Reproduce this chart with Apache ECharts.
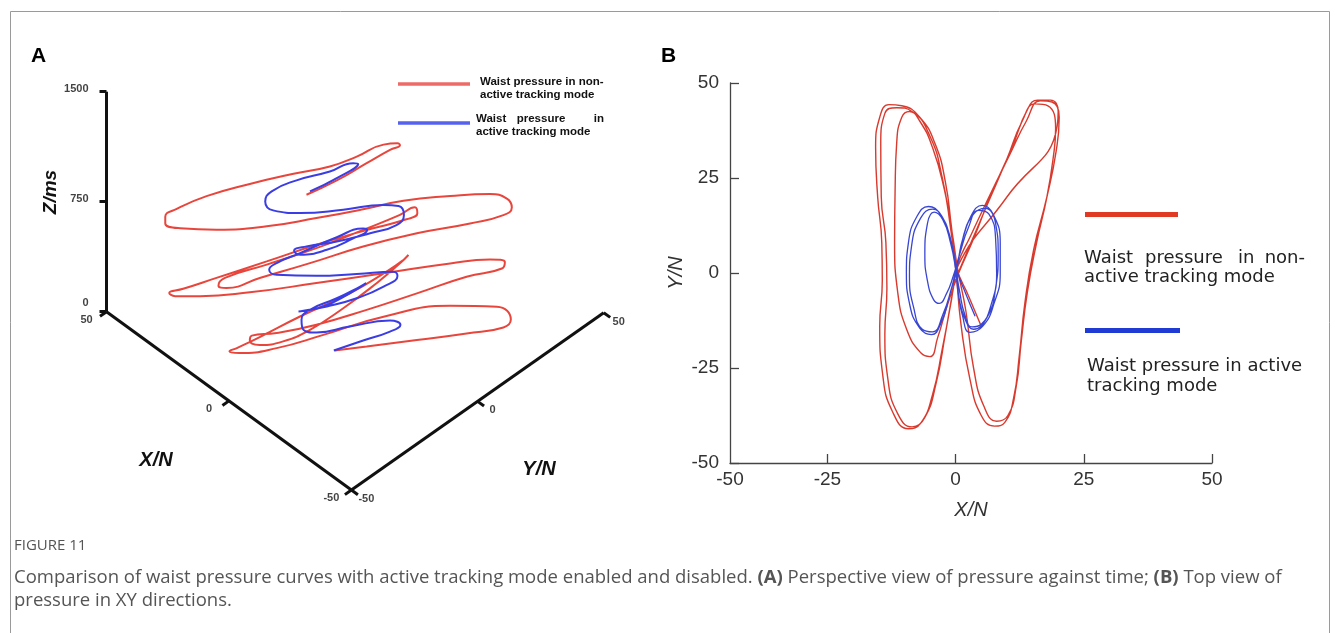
<!DOCTYPE html>
<html>
<head>
<meta charset="utf-8">
<title>Figure 11</title>
<script src="https://cdn.jsdelivr.net/npm/echarts@6/dist/echarts.min.js"></script>
<style>
  html, body { margin: 0; padding: 0; background: #fff; }
  #main { width: 1335px; height: 633px; }
</style>
</head>
<body>
<div id="main"></div>
<script>
// ---------- panel A: perspective view, points are [X (N), Y (N), Z (ms)] ----------
var aXTicks = [-50, 0, 50];
var aYTicks = [-50, 0, 50];
var aZTicks = [0, 750, 1500];

var aRed = [
  [-2.4,-21.6,1091],[-8.5,-15.5,1189],[-14.5,-9.5,1307],[-19.2,-4.8,1398],[-21.2,-2.8,1430],
  [-20.7,-3.3,1443],[-17.9,-6.1,1434],[-12.5,-11.5,1352],[-7.1,-16.9,1284],[0.2,-24.2,1234],
  [9.0,-33.0,1164],[17.7,-41.7,1080],[23.7,-47.7,993],[26.0,-50.0,939],[26.0,-50.0,893],
  [23.0,-47.0,861],[15.7,-39.7,852],[5.6,-29.6,875],[-4.4,-19.6,932],[-13.8,-10.2,993],
  [-21.9,-2.1,1052],[-31.3,7.3,1084],[-39.3,15.3,1098],[-42.7,18.7,1068],[-43.7,19.7,1007],
  [-42.0,18.0,955],[-35.3,11.3,898],[-24.6,0.6,830],[-13.8,-10.2,739],[-3.1,-20.9,625],
  [7.0,-31.0,523],[13.7,-37.7,455],[15.3,-39.3,470],[14.0,-38.0,523],[5.6,-29.6,614],
  [-4.4,-19.6,727],[-13.8,-10.2,852],[-21.2,-2.8,955],[-24.2,0.2,1007],[-24.7,0.7,966],
  [-22.5,-1.5,925],[-14.5,-9.5,852],[-4.4,-19.6,750],[5.6,-29.6,636],[15.7,-39.7,523],
  [22.4,-46.4,448],[25.2,-49.2,420],[24.0,-48.0,398],[19.0,-43.0,398],[9.0,-33.0,425],
  [-4.4,-19.6,489],[-17.9,-6.1,557],[-31.3,7.3,625],[-39.3,15.3,652],[-42.3,18.3,636],
  [-41.7,17.7,591],[-34.6,10.6,534],[-24.6,0.6,420],[-14.5,-9.5,307],[-4.4,-19.6,205],
  [3.6,-27.6,148],[8.6,-32.6,130],[9.0,-33.0,98],[7.0,-31.0,66],[2.3,-26.3,91],
  [-3.1,-20.9,170],[-9.8,-14.2,318],[-16.5,-7.5,489],[-21.2,-2.8,625],[-22.9,-1.1,682],
  [-21.9,-2.1,648],[-18.5,-5.5,568],[-11.1,-12.9,420],[-1.1,-22.9,261],[7.0,-31.0,120],
  [11.6,-35.6,45],[13.1,-37.1,23],[11.1,-35.1,11],[3.6,-27.6,45],[-5.8,-18.2,136],
  [-17.9,-6.1,261],[-31.3,7.3,336],[-40.7,16.7,330],[-43.5,19.5,243],[-42.0,18.0,189],
  [-34.6,10.6,148],[-24.6,0.6,102],[-14.5,-9.5,57],[-8.1,-15.9,30]
];

var aBlue = [
  [-3.1,-20.9,1114],[-8.5,-15.5,1205],[-12.8,-11.2,1302],[-11.8,-12.2,1307],[-7.1,-16.9,1250],
  [-0.4,-23.6,1189],[4.6,-28.6,1114],[5.9,-29.9,1045],[4.3,-28.3,984],[-1.1,-22.9,966],
  [-9.8,-14.2,989],[-17.9,-6.1,1023],[-20.9,-3.1,1016],[-22.0,-2.0,955],[-20.5,-3.5,886],
  [-15.2,-8.8,830],[-8.5,-15.5,773],[-2.4,-21.6,739],[0.1,-24.1,711],[-1.1,-22.9,682],
  [-6.5,-17.5,716],[-11.8,-12.2,795],[-14.6,-9.4,852],[-13.8,-10.2,861],[-8.5,-15.5,802],
  [-1.1,-22.9,693],[3.6,-27.6,625],[5.1,-29.1,580],[3.6,-27.6,545],[-4.4,-19.6,539],
  [-12.5,-11.5,552],[-19.9,-4.1,568],[-20.7,-3.3,539],[-17.9,-6.1,466],[-12.5,-11.5,386],
  [-6.5,-17.5,330],[-1.8,-22.2,300],[-0.8,-23.2,295],[-5.8,-18.2,330],[-11.1,-12.9,420],
  [-14.4,-9.6,489],[-13.2,-10.8,466],[-8.5,-15.5,386],[-3.1,-20.9,307],[-1.4,-22.6,239],
  [-1.8,-22.2,170],[-4.4,-19.6,152],[-11.1,-12.9,193],[-19.2,-4.8,234],[-21.3,-2.7,205],
  [-19.2,-4.8,159],[-13.8,-10.2,98],[-7.9,-16.1,30]
];

// ---------- panel B: top view, points are [X (N), Y (N)] ----------
var bXTicks = [-25, 0, 25, 50];
var bXStart = -44;          // where the Y axis crosses, labelled -50 in the original figure
var bYTicks = [-50, -25, 0, 25, 50];

var bRed = [
  [5,-14],[2.5,-6],[0.2,1.5],
  [-0.8,12],[-2,24],[-4,34],[-7,41],[-10.5,44],[-13,44.3],
  [-14.8,41],[-15.6,33],[-15.2,20],[-14.4,8],[-14.3,-2],[-14.8,-14],[-14.2,-27],[-12.3,-36.5],
  [-9.2,-41],[-6.8,-39.5],[-4.5,-32],[-2.6,-20],[-0.8,-7],[0.2,1.5],
  [3,10],[6.5,20],[10.5,31],[13.8,40],[16.5,45.3],[18.8,45],[20.2,41],
  [19.6,32],[17.8,20],[15.2,6],[13.5,-8],[12.4,-22],[11.3,-33],[9.6,-39.3],[7.6,-40.3],
  [5,-37.5],[2.8,-28],[1,-13],[0.1,0],
  [-1,12],[-2.6,25],[-5,36],[-8.5,42.5],[-11.5,43.5],[-13.8,42],
  [-14.6,34],[-14.5,20],[-13.6,8],[-13.4,-4],[-13.8,-16],[-13.2,-28],[-11.3,-37],[-8.5,-40.5],
  [-6,-38],[-3.8,-29],[-2,-16],[-0.3,-3],[0.5,2],
  [10,20],[19.8,38.6],[20,42.5],[18.5,45.5],[16,45.5],[14,43],[11,33],[7,21],[3.5,9],[0.6,0],
  [-1.5,-8],[-3.5,-17],[-5,-22],[-6.8,-21],[-9.5,-15],[-11.3,-5],[-11.9,8],[-11.8,22],
  [-11.5,34],[-10.5,41],[-9,42.5],[-7,40],[-4.5,33],[-2.2,22],[-0.6,10],[0.4,1],
  [2,-10],[3.5,-25],[5.5,-35],[8,-39],[10.2,-37.5],[11.8,-30],[12.8,-18],[14,-5],[15.8,8],
  [17.8,20],[19,30],[19.5,38],[18,44],[15.5,44.5],[13,40],[10,30],[6.5,19],[3,8],[0.5,0]
];

var bBlue = [
  [3.8,-11.4],[2,-5.5],[0.3,0.5],
  [-1,9],[-3,15.5],[-5.3,17.5],[-7.5,15],[-9.2,8],[-9.6,0],[-9,-8],[-7,-14.5],[-4.7,-16.2],
  [-2.8,-13],[-1.2,-6],[0.2,1],
  [1.2,8],[3,15],[5.2,17.8],[7.3,15.5],[8.7,8],[8.7,0],[7.5,-8],[5.3,-14],[2.8,-15.6],
  [1.3,-11],[0.5,-5],[0.1,1],
  [-0.8,8],[-2.5,14.5],[-4.5,16.8],[-6.8,14.5],[-8.6,7],[-9,-1],[-8.2,-9],[-6.5,-14.8],
  [-4.5,-15.5],[-2.5,-11],[-0.8,-4],[0.3,2],
  [1.5,9.5],[3.5,15.5],[5.8,17],[7.8,13],[8.3,5],[7.8,-4],[6.2,-11.5],[3.5,-14.8],[1.8,-12],
  [0.6,-6],[0,1],
  [-1,8],[-2.5,14],[-4.2,16],[-5.5,13],[-6,5],[-5.5,-2],[-4.3,-7],[-3.2,-8],[-1.8,-5.5],[-0.5,-1],
  [0.8,5],[2.5,12],[4.5,16.5],[6.5,15.5],[7.8,9],[8,0],[7,-8],[5,-13.5],[3.2,-14.2],[1.8,-11],
  [0.8,-5],[0.2,0]
];

var seriesNames = ['Waist pressure in non-active tracking mode', 'Waist pressure in active tracking mode'];

// ---------- layout ----------
var FONT = '"Liberation Sans", Arial, sans-serif';
var RED_A = '#e8463c', BLUE_A = '#3a3de4';
var RED_B = '#d83a2e', BLUE_B = '#3946d2';

// screen corners of the 3D frame (X=-50,Y=-50,Z=0 is the near corner)
var frame = { origin: [351.4, 490], xEnd: [106.5, 311.7], yEnd: [603.7, 312.7], zHeight: 220 };

function project(p) {
  var fx = (p[0] - aXTicks[0]) / (aXTicks[aXTicks.length - 1] - aXTicks[0]);
  var fy = (p[1] - aYTicks[0]) / (aYTicks[aYTicks.length - 1] - aYTicks[0]);
  var fz = (p[2] - aZTicks[0]) / (aZTicks[aZTicks.length - 1] - aZTicks[0]);
  var o = frame.origin;
  return [
    o[0] + fx * (frame.xEnd[0] - o[0]) + fy * (frame.yEnd[0] - o[0]),
    o[1] + fx * (frame.xEnd[1] - o[1]) + fy * (frame.yEnd[1] - o[1]) - fz * frame.zHeight
  ];
}

var xMax = aXTicks[aXTicks.length - 1], yMin = aYTicks[0], xMin = aXTicks[0];
var zTop = aZTicks[aZTicks.length - 1];

// axis lines + ticks of the 3D frame
var frameLines = [
  { coords: [project([xMin, yMin, 0]), project([xMax, yMin, 0])] },
  { coords: [project([xMin, yMin, 0]), project([xMin, aYTicks[aYTicks.length - 1], 0])] },
  { coords: [project([xMax, yMin, 0]), project([xMax, yMin, zTop])] }
];
var frameLabels = [];
aZTicks.forEach(function (z) {
  var p = project([xMax, yMin, z]);
  frameLines.push({ coords: [p, [p[0] - 7, p[1]]] });
  frameLabels.push({ value: [p[0] - 18, p[1] - (z === 0 ? 9 : 3)], name: String(z), align: 'right' });
});
aXTicks.forEach(function (x) {
  var p = project([x, yMin, 0]);
  frameLines.push({ coords: [p, [p[0] - 6.5, p[1] + 4.6]] });
  frameLabels.push({ value: [p[0] - 20, p[1] + 8], name: String(x), align: 'center' });
});
aYTicks.forEach(function (y) {
  var p = project([xMin, y, 0]);
  frameLines.push({ coords: [p, [p[0] + 6.5, p[1] + 4.7]] });
  frameLabels.push({ value: [p[0] + 15, p[1] + 9], name: String(y), align: 'center' });
});

function txt(x, y, text, font, fill, align, extra) {
  var o = {
    type: 'text', x: x, y: y, silent: true,
    style: { text: text, font: font, fill: fill || '#000',
      align: align || 'left', verticalAlign: 'middle',
      textAlign: align || 'left', textVerticalAlign: 'middle' }
  };
  if (extra) { for (var k in extra) o[k] = extra[k]; }
  return o;
}
function seg(x1, y1, x2, y2, color, w) {
  return { type: 'line', silent: true, shape: { x1: x1, y1: y1, x2: x2, y2: y2 },
    style: { stroke: color, lineWidth: w } };
}

var boldA = 'bold 11.5px ' + FONT;
var legB = '18px "DejaVu Sans", sans-serif';
var capFont = '"Open Sans", "Noto Sans", sans-serif';

var chart = echarts.init(document.getElementById('main'), null, { renderer: 'canvas' });

chart.setOption({
  animation: false,
  backgroundColor: '#fff',
  grid: [
    { left: 0, top: 0, width: 1335, height: 633, show: false },
    { left: 730, top: 83, width: 482, height: 380, show: false }
  ],
  xAxis: [
    { gridIndex: 0, type: 'value', min: 0, max: 1335, show: false },
    {
      gridIndex: 1, type: 'value', min: bXStart, max: bXTicks[bXTicks.length - 1],
      name: 'X/N', nameLocation: 'middle', nameGap: 37,
      nameTextStyle: { fontFamily: FONT, fontSize: 20, fontStyle: 'italic', color: '#333' },
      axisLine: { onZero: false, lineStyle: { color: '#444', width: 1.3 } },
      axisTick: { inside: true, length: 9, customValues: bXTicks, lineStyle: { color: '#444', width: 1.3 } },
      axisLabel: {
        customValues: [bXStart].concat(bXTicks), margin: 7,
        fontFamily: FONT, fontSize: 19, color: '#333',
        formatter: function (v) { return v === bXStart ? String(bYTicks[0]) : String(v); }
      },
      splitLine: { show: false }
    }
  ],
  yAxis: [
    { gridIndex: 0, type: 'value', min: 0, max: 633, inverse: true, show: false },
    {
      gridIndex: 1, type: 'value', min: bYTicks[0], max: bYTicks[bYTicks.length - 1], interval: 25,
      name: 'Y/N', nameLocation: 'middle', nameGap: 44, nameRotate: 90,
      nameTextStyle: { fontFamily: FONT, fontSize: 20, fontStyle: 'italic', color: '#333' },
      axisLine: { onZero: false, lineStyle: { color: '#444', width: 1.3 } },
      axisTick: { inside: true, length: 9, lineStyle: { color: '#444', width: 1.3 } },
      axisLabel: { margin: 11, fontFamily: FONT, fontSize: 19, color: '#333' },
      splitLine: { show: false }
    }
  ],
  series: [
    {
      name: 'frame', type: 'lines', coordinateSystem: 'cartesian2d', xAxisIndex: 0, yAxisIndex: 0,
      silent: true, data: frameLines, lineStyle: { color: '#111', width: 3, opacity: 1 }
    },
    {
      name: 'frameLabels', type: 'scatter', xAxisIndex: 0, yAxisIndex: 0, silent: true,
      symbolSize: 1, itemStyle: { color: 'rgba(0,0,0,0)' },
      data: frameLabels.map(function (d) {
        return { value: d.value, name: d.name,
          label: { show: true, position: 'inside', formatter: d.name, align: d.align,
            verticalAlign: 'middle', fontFamily: FONT, fontWeight: 'bold', fontSize: 11, color: '#111' } };
      })
    },
    {
      name: seriesNames[0], type: 'line', xAxisIndex: 0, yAxisIndex: 0, silent: true,
      data: aRed.map(project), smooth: 0.5, showSymbol: false, clip: false,
      lineStyle: { color: RED_A, width: 2 }
    },
    {
      name: seriesNames[1], type: 'line', xAxisIndex: 0, yAxisIndex: 0, silent: true,
      data: aBlue.map(project), smooth: 0.5, showSymbol: false, clip: false,
      lineStyle: { color: BLUE_A, width: 2 }
    },
    {
      name: seriesNames[0], type: 'line', xAxisIndex: 1, yAxisIndex: 1, silent: true,
      data: bRed, smooth: 0.5, showSymbol: false, clip: false,
      lineStyle: { color: RED_B, width: 1.4 }
    },
    {
      name: seriesNames[1], type: 'line', xAxisIndex: 1, yAxisIndex: 1, silent: true,
      data: bBlue, smooth: 0.5, showSymbol: false, clip: false,
      lineStyle: { color: BLUE_B, width: 1.3 }
    }
  ],
  graphic: [
    { type: 'rect', silent: true, shape: { x: 10.5, y: 11.5, width: 1319, height: 700 },
      style: { fill: 'none', stroke: '#9a9a9a', lineWidth: 1 } },
    txt(31, 56, 'A', 'bold 21px ' + FONT, '#000'),
    txt(661, 56, 'B', 'bold 21px ' + FONT, '#000'),

    // panel A axis names
    txt(51, 192, 'Z/ms', 'italic bold 19px ' + FONT, '#111', 'center', { rotation: Math.PI / 2 }),
    txt(156, 460, 'X/N', 'italic bold 20px ' + FONT, '#111', 'center'),
    txt(539, 469, 'Y/N', 'italic bold 20px ' + FONT, '#111', 'center'),

    // panel A legend
    seg(398, 84, 470, 84, '#ec6b67', 3.5),
    txt(480, 82, 'Waist pressure in non-', boldA, '#111'),
    txt(480, 95, 'active tracking mode', boldA, '#111'),
    seg(398, 123, 470, 123, '#5662ee', 3.5),
    txt(476, 119, 'Waist', boldA, '#111'),
    txt(541, 119, 'pressure', boldA, '#111', 'center'),
    txt(604, 119, 'in', boldA, '#111', 'right'),
    txt(476, 132, 'active tracking mode', boldA, '#111'),

    // panel B legend
    seg(1085, 214.5, 1178, 214.5, '#e03a24', 5),
    txt(1084, 258, 'Waist', legB, '#222'),
    txt(1145, 258, 'pressure', legB, '#222'),
    txt(1238, 258, 'in', legB, '#222'),
    txt(1305, 258, 'non-', legB, '#222', 'right'),
    txt(1084, 277, 'active tracking mode', legB, '#222'),
    seg(1085, 330.5, 1180, 330.5, '#1f3bd4', 5),
    txt(1087, 366, 'Waist pressure in active', legB, '#222'),
    txt(1087, 386, 'tracking mode', legB, '#222'),

    // caption
    txt(14, 546, 'FIGURE 11', '15px ' + capFont, '#555'),
    {
      type: 'text', x: 14, y: 578, silent: true,
      style: {
        text: '{n|Comparison of waist pressure curves with active tracking mode enabled and disabled. }{b|(A)}{n| Perspective view of pressure against time; }{b|(B)}{n| Top view of}',
        verticalAlign: 'middle', textVerticalAlign: 'middle',
        rich: {
          n: { fontFamily: capFont, fontSize: 18.5, fill: '#555' },
          b: { fontFamily: capFont, fontSize: 18.5, fontWeight: 'bold', fill: '#555' }
        }
      }
    },
    txt(14, 601, 'pressure in XY directions.', '18.5px ' + capFont, '#555')
  ]
});
</script>
</body>
</html>
